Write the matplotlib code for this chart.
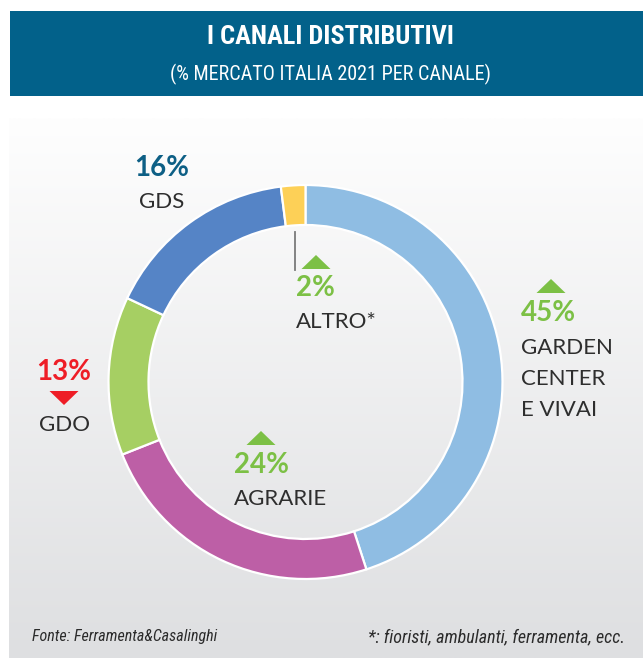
import numpy as np
import matplotlib
matplotlib.use("Agg")
import matplotlib.pyplot as plt
from matplotlib import font_manager as fm
from matplotlib.patches import Rectangle, Polygon

# ---------------- data ----------------
categories = ["GARDEN CENTER E VIVAI", "AGRARIE", "GDO", "GDS", "ALTRO*"]
label_lines = [["GARDEN", "CENTER", "E VIVAI"], ["AGRARIE"], ["GDO"], ["GDS"], ["ALTRO*"]]
shares = [45, 24, 13, 16, 2]
trends = ["up", "up", "down", "none", "up"]
seg_colors = ["#8fbde3", "#bd5fa6", "#a6cf63", "#5584c6", "#fdd057"]
pct_colors = ["#7cc045", "#7cc045", "#ee1d26", "#0d5f85", "#7cc045"]
title = "I CANALI DISTRIBUTIVI"
subtitle = "(% MERCATO ITALIA 2021 PER CANALE)"
source = "Fonte: Ferramenta&Casalinghi"
note = "*: fioristi, ambulanti, ferramenta, ecc."

# ---------------- fonts ----------------
names = {f.name for f in fm.fontManager.ttflist}
def pick(cands, default="DejaVu Sans"):
    for c in cands:
        if c in names:
            return c
    return default
NARROW = pick(["Roboto Condensed", "Open Sans Condensed", "Liberation Sans Narrow"])
BODY = pick(["Lato", "Open Sans", "Noto Sans"])

W, H = 643, 658
fig = plt.figure(figsize=(W / 100, H / 100), dpi=100)
fig.patch.set_facecolor("white")

bg = fig.add_axes([0, 0, 1, 1])
bg.axis("off")

# gradient panel
grad = np.linspace(0, 1, 256).reshape(-1, 1)
top_c = np.array([254, 254, 254]) / 255
bot_c = np.array([222, 223, 225]) / 255
img = top_c[None, None, :] * (1 - grad[..., None]) + bot_c[None, None, :] * grad[..., None]
bg.imshow(img, extent=[9, W, H, 118], aspect="auto", zorder=0, interpolation="bilinear")
bg.set_xlim(0, W)
bg.set_ylim(H, 0)

# banner
bg.add_patch(Rectangle((10, 11), W - 10, 85, facecolor="#02618a", edgecolor="none", zorder=1))
bg.text(330, 37, title, color="white", fontsize=19, fontweight="bold", family=NARROW,
        ha="center", va="center", zorder=2)
bg.text(330, 74, subtitle, color="white", fontsize=14.5, family=NARROW,
        ha="center", va="center", zorder=2)

# footer
bg.text(32, 637, source, fontsize=11.5, style="italic", family=NARROW, color="#2b2b2b",
        ha="left", va="center")
bg.text(625, 637, note, fontsize=13, style="italic", family=NARROW, color="#2b2b2b",
        ha="right", va="center")

# ---------------- donut ----------------
cx, cy, R, ring = 305.5, 382, 197, 40
m = 1.03
axp = fig.add_axes([(cx - R * m) / W, (H - cy - R * m) / H, 2 * R * m / W, 2 * R * m / H])
axp.pie(shares, colors=seg_colors, startangle=90, counterclock=False, radius=1,
        wedgeprops=dict(width=ring / R, edgecolor="white", linewidth=1.6))
axp.set_xlim(-m, m)
axp.set_ylim(-m, m)
axp.axis("off")
axp.patch.set_alpha(0)

# ---------------- labels ----------------
layout = {
    "GARDEN CENTER E VIVAI": dict(px=521, py=313, ha="left", ny=348, tx=551, ty=286),
    "AGRARIE": dict(px=234, py=465, ha="left", ny=499, tx=261, ty=438),
    "GDO": dict(px=64, py=372, ha="center", ny=425, tx=64, ty=398),
    "GDS": dict(px=162, py=168, ha="center", ny=202, tx=None, ty=None),
    "ALTRO*": dict(px=296, py=288, ha="left", ny=322, tx=316, ty=262),
}
line_gap = 31
tw, th = 29, 14
for cat, lines, v, tr, pc in zip(categories, label_lines, shares, trends, pct_colors):
    L = layout[cat]
    bg.text(L["px"], L["py"], f"{v}%", color=pc, fontsize=20, fontweight="bold", family=BODY,
            ha=L["ha"], va="center")
    for i, ln in enumerate(lines):
        bg.text(L["px"], L["ny"] + i * line_gap, ln, color="#2e2e2e", fontsize=16,
                fontweight="normal", family=BODY, ha=L["ha"], va="center")
    if tr == "up":
        tx, ty = L["tx"], L["ty"]
        bg.add_patch(Polygon([[tx - tw / 2, ty + th / 2], [tx + tw / 2, ty + th / 2], [tx, ty - th / 2]],
                             closed=True, facecolor="#7cc045", edgecolor="none"))
    elif tr == "down":
        tx, ty = L["tx"], L["ty"]
        bg.add_patch(Polygon([[tx - tw / 2, ty - th / 2], [tx + tw / 2, ty - th / 2], [tx, ty + th / 2]],
                             closed=True, facecolor="#ee1d26", edgecolor="none"))

# leader line for ALTRO
bg.plot([295, 295], [232, 270], color="#7a7a7a", linewidth=1.3)

fig.savefig("out.png", dpi=100, facecolor="white")
